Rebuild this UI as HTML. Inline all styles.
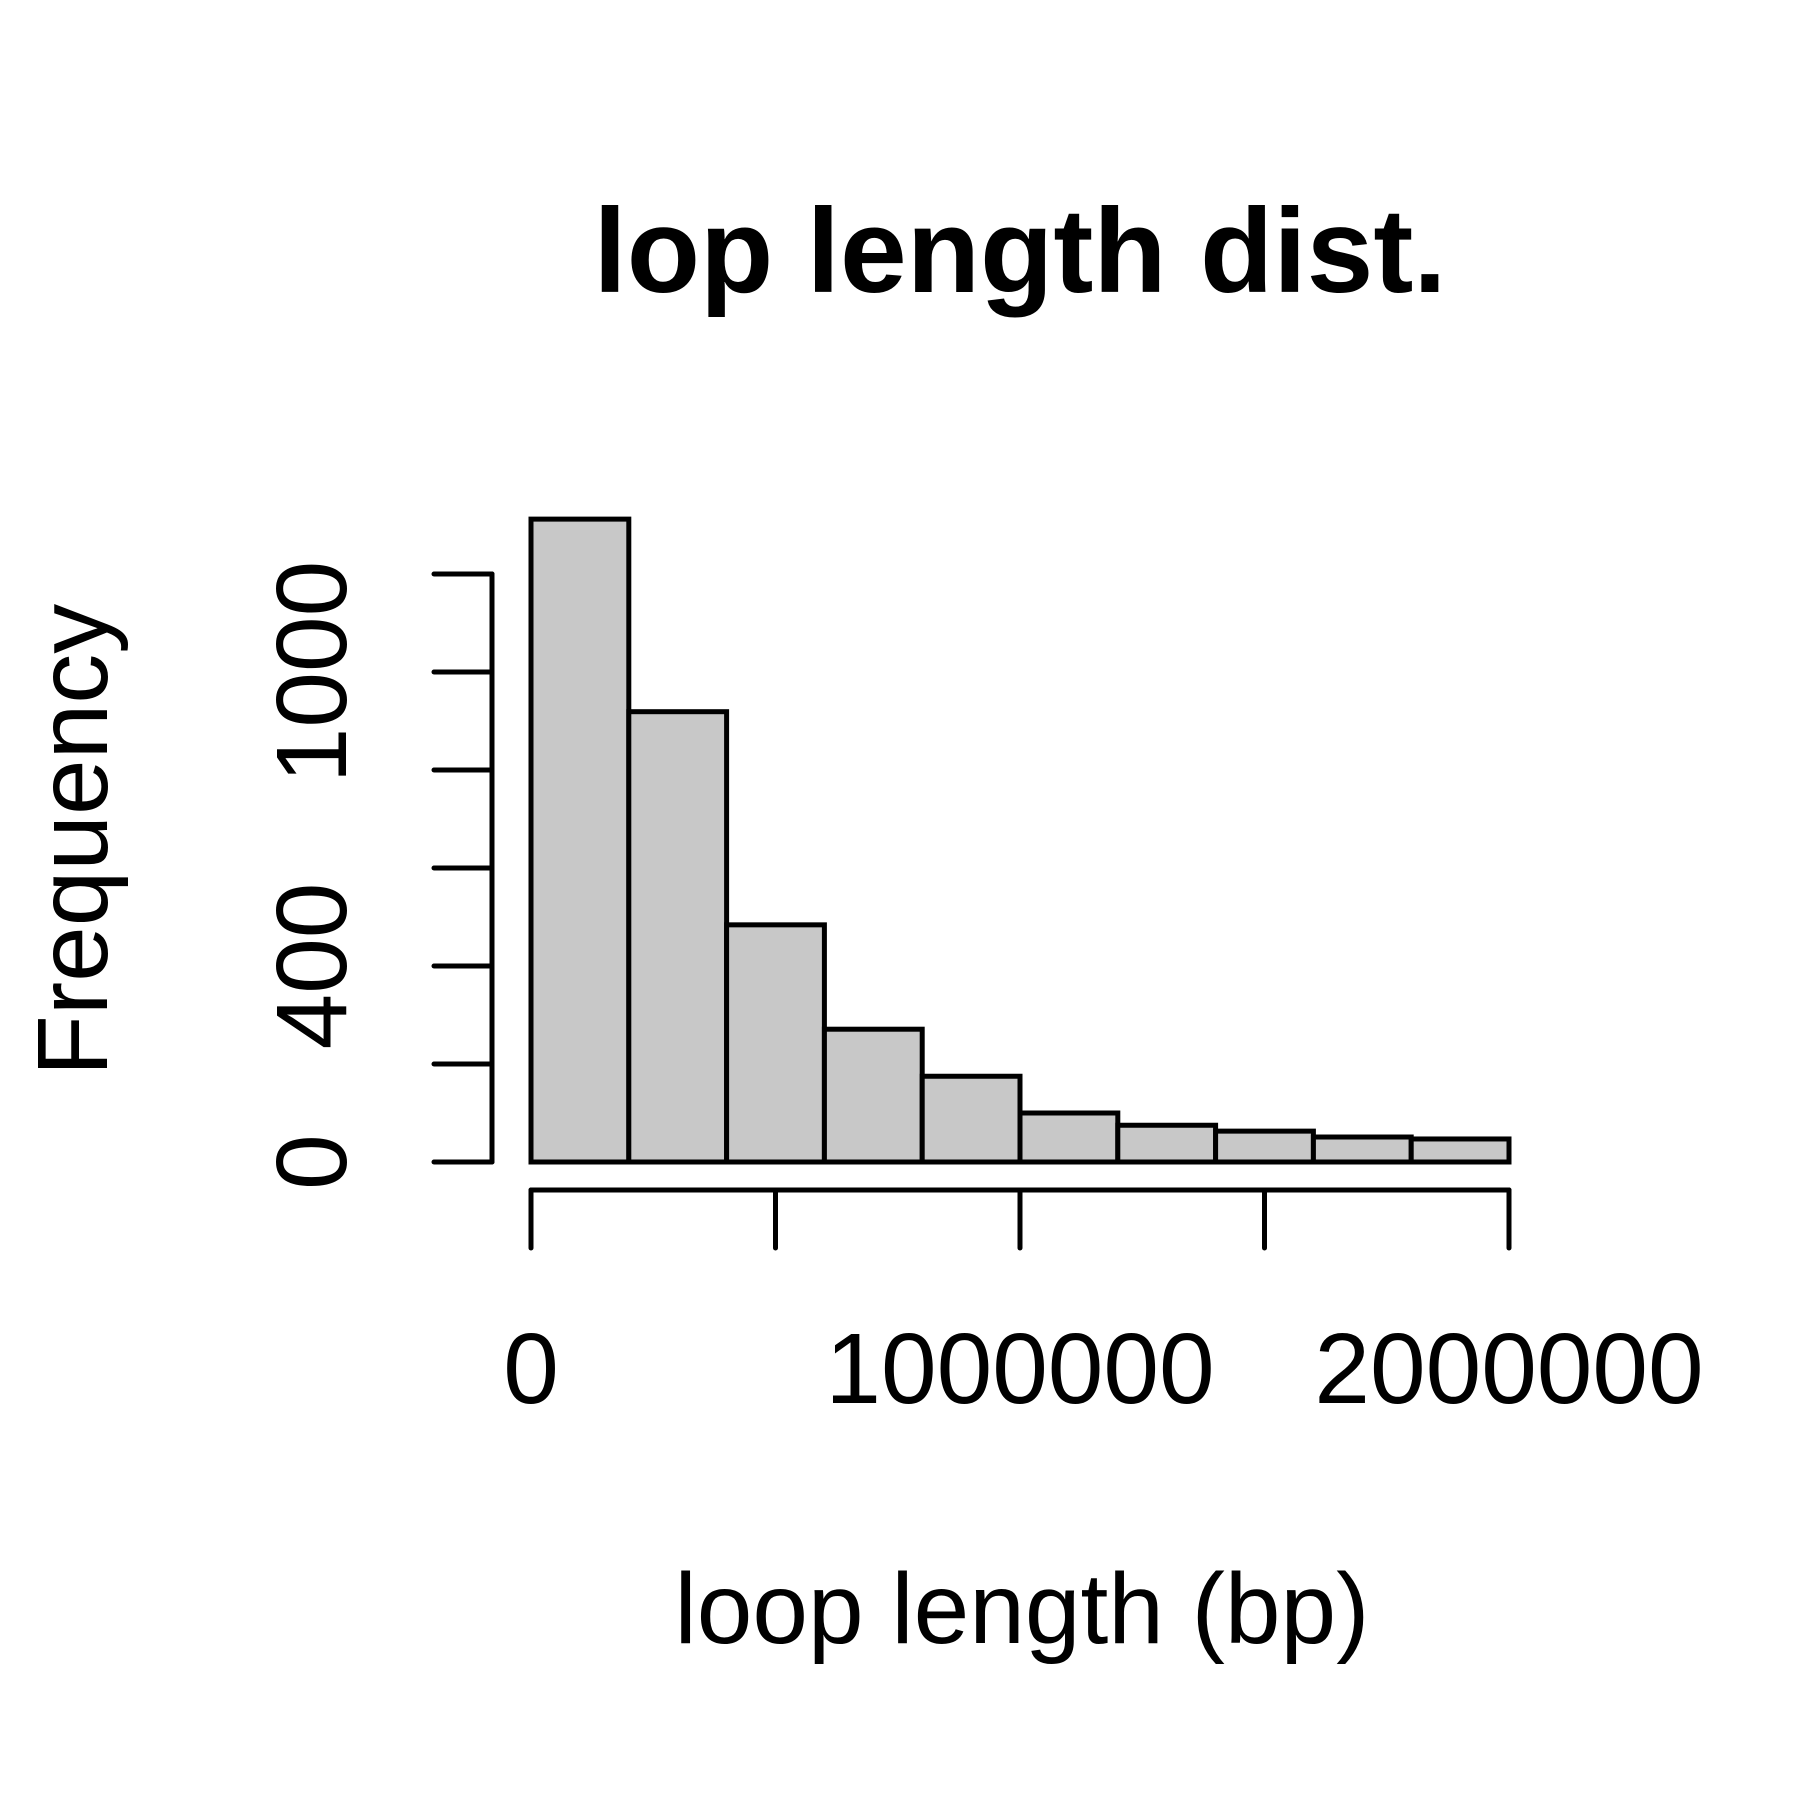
<!DOCTYPE html>
<html><head><style>html,body{margin:0;padding:0;background:#fff}svg{display:block}text{font-family:"Liberation Sans",sans-serif;fill:#000}</style></head>
<body>
<svg id="chart" width="1800" height="1800" viewBox="0 0 1800 1800">
<text x="1020" y="292" font-size="120" font-weight="bold" text-anchor="middle">lop length dist.</text>
<text x="1022" y="1643" font-size="100" text-anchor="middle">loop length (bp)</text>
<text transform="translate(107,840) rotate(-90)" font-size="100" text-anchor="middle">Frequency</text>
<g id="bars"></g><g id="axes"></g>
</svg>
<script>
const binStarts=[0,200000,400000,600000,800000,1000000,1200000,1400000,1600000,1800000];
const counts=[1312,919,484,271,175,100,75,63,51,47];
const binWidth=200000;
const xTicks=[0,500000,1000000,1500000,2000000];
const xTickLabels=["0","","1000000","","2000000"];
const yTicks=[0,200,400,600,800,1000,1200];
const yTickLabels=["0","","400","","","1000",""];
const sx=v=>531+v*(1509-531)/2000000;
const sy=v=>1162-v*(1162-574)/1200;
const NS="http://www.w3.org/2000/svg";
const bars=document.getElementById('bars'),axes=document.getElementById('axes');
function mk(tag,attrs,parent){const e=document.createElementNS(NS,tag);for(const k in attrs)e.setAttribute(k,attrs[k]);parent.appendChild(e);return e;}
counts.forEach((c,i)=>{
  const r=mk('rect',{x:sx(binStarts[i]),y:sy(c),width:sx(binStarts[i]+binWidth)-sx(binStarts[i]),height:sy(0)-sy(c),fill:'#c8c8c8',stroke:'#000','stroke-width':5},bars);
  
  
});
const xa=mk('line',{x1:sx(xTicks[0]),x2:sx(xTicks[xTicks.length-1]),y1:1190,y2:1190,stroke:'#000','stroke-width':5,'stroke-linecap':'round'},axes);


xTicks.forEach((t,i)=>{
  const l=mk('line',{x1:sx(t),x2:sx(t),y1:1190,y2:1248,stroke:'#000','stroke-width':5,'stroke-linecap':'round'},axes);
  
  
  if(xTickLabels[i]){const tx=mk('text',{x:sx(t),y:1403,'font-size':100,'text-anchor':'middle'},axes);tx.textContent=xTickLabels[i];
  
  }
});
const ya=mk('line',{x1:492,x2:492,y1:sy(yTicks[0]),y2:sy(yTicks[yTicks.length-1]),stroke:'#000','stroke-width':5,'stroke-linecap':'round'},axes);


yTicks.forEach((t,i)=>{
  const l=mk('line',{x1:434,x2:492,y1:sy(t),y2:sy(t),stroke:'#000','stroke-width':5,'stroke-linecap':'round'},axes);
  
  
  if(yTickLabels[i]){const tx=mk('text',{transform:`translate(346,${sy(t)}) rotate(-90)`,'font-size':100,'text-anchor':'middle'},axes);tx.textContent=yTickLabels[i];
  
  }
});
</script>
</body></html>
